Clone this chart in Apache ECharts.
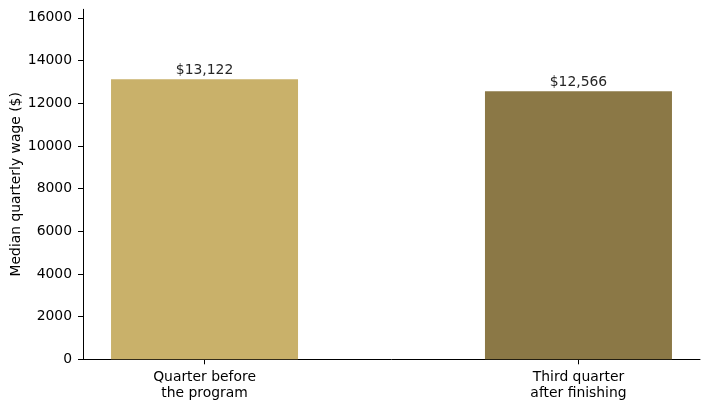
<!DOCTYPE html>
<html><head><meta charset="utf-8">
<script src="https://cdn.jsdelivr.net/npm/echarts@6/dist/echarts.min.js"></script>
<style>html,body{margin:0;padding:0;background:#fff}#c{width:710px;height:409px}</style>
</head><body><div id="c"></div>
<script>
const categories = ['Quarter before\nthe program', 'Third quarter\nafter finishing'];
const values = [13122, 12566];
const colors = ['#C9B16A', '#8B7846'];
const yTicks = [0, 2000, 4000, 6000, 8000, 10000, 12000, 14000, 16000];

const font = 'DejaVu Sans';
const chart = echarts.init(document.getElementById('c'), null, {renderer: 'canvas'});
chart.setOption({
  animation: false,
  grid: {left: 83, right: 10, top: 9.3, bottom: 49.7, outerBoundsMode: 'none'},
  xAxis: {
    type: 'value', min: -0.325, max: 1.325,
    splitLine: {show: false},
    axisLine: {show: true, onZero: false, lineStyle: {color: '#000', width: 1}},
    axisTick: {show: true, customValues: [0, 1], length: 5, lineStyle: {color: '#000'}},
    axisLabel: {show: true, customValues: [0, 1], fontFamily: font, fontSize: 13.9, color: '#000',
      lineHeight: 16, margin: 10,
      formatter: v => categories[Math.round(v)]}
  },
  yAxis: {
    type: 'value', min: 0, max: 16402,
    splitLine: {show: false},
    axisLine: {show: true, onZero: false, lineStyle: {color: '#000', width: 1}},
    axisTick: {show: true, customValues: yTicks, length: 5, lineStyle: {color: '#000'}},
    axisLabel: {customValues: yTicks, fontFamily: font, fontSize: 13.9, color: '#000', margin: 11,
      formatter: v => String(v)},
    name: 'Median quarterly wage ($)', nameLocation: 'middle', nameGap: 60, nameMoveOverlap: false,
    nameTextStyle: {fontFamily: font, fontSize: 13.9, color: '#000'}
  },
  series: [{
    type: 'bar', barWidth: 187,
    data: values.map((v, i) => ({value: [i, v], itemStyle: {color: colors[i]}})),
    label: {show: true, position: 'top', distance: 2, fontFamily: font, fontSize: 13.9, color: '#262626',
      formatter: p => '$' + p.value[1].toLocaleString('en-US')}
  }]
});
</script></body></html>
